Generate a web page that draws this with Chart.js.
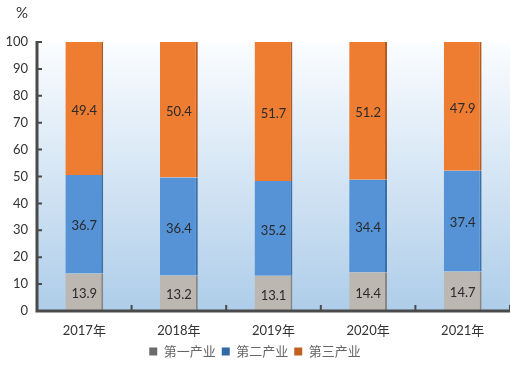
<!DOCTYPE html>
<html>
<head>
<meta charset="utf-8">
<script src="https://cdn.jsdelivr.net/npm/chart.js@4"></script>
<style>
  html, body { margin: 0; padding: 0; background: #fff; }
  #wrap { width: 510px; height: 370px; }
</style>
</head>
<body>
<div id="wrap"><canvas id="chart1"></canvas></div>
<script>
// 产业构成
const years = ["2017年", "2018年", "2019年", "2020年", "2021年"];
const primary = [13.9, 13.2, 13.1, 14.4, 14.7];
const secondary = [36.7, 36.4, 35.2, 34.4, 37.4];
const tertiary = [49.4, 50.4, 51.7, 51.2, 47.9];
const seriesNames = ["第一产业", "第二产业", "第三产业"];
const yTicks = [0, 10, 20, 30, 40, 50, 60, 70, 80, 90, 100];

const barColors = ["#bdb7b2", "#5592d6", "#ee7d32"];
const edgeColors = ["#8c8681", "#3a6fa8", "#b55a1e"];
const legendColors = ["#6b6b6b", "#2f6aa6", "#c0601c"];

Chart.defaults.font.family = "Lato, 'Noto Sans CJK SC', sans-serif";

const bgPlugin = {
    id: "bg",
    beforeDraw(chart) {
        const { ctx, chartArea: a } = chart;
        const g = ctx.createLinearGradient(0, a.top, 0, a.bottom);
        g.addColorStop(0, "#fbfdff");
        g.addColorStop(1, "#aecde9");
        ctx.save();
        ctx.fillStyle = g;
        ctx.fillRect(a.left, a.top, a.right - a.left, a.bottom - a.top);
        // % 标记
        ctx.fillStyle = "#333";
        ctx.font = "15px Lato, sans-serif";
        ctx.textAlign = "center";
        ctx.textBaseline = "middle";
        ctx.fillText("%", 22, 13);
        ctx.restore();
    }
};

const axisPlugin = {
    id: "axes",
    afterDatasetsDraw(chart) {
        const { ctx, chartArea: a, scales } = chart;
        ctx.save();
        // 数值标签
        ctx.fillStyle = "#2a2a2a";
        ctx.font = "13px Lato, sans-serif";
        ctx.textAlign = "center";
        ctx.textBaseline = "middle";
        chart.data.datasets.forEach((ds, di) => {
            chart.getDatasetMeta(di).data.forEach((bar, i) => {
                const y = (bar.y + bar.base) / 2;
                ctx.fillText(ds.data[i].toFixed(1), bar.x, y + 2);
            });
        });
        ctx.strokeStyle = "#4a4a4a";
        ctx.lineWidth = 3;
        ctx.beginPath();
        ctx.moveTo(a.left, a.top - 1);
        ctx.lineTo(a.left, a.bottom);
        ctx.lineTo(a.right, a.bottom);
        ctx.stroke();
        ctx.lineWidth = 2;
        ctx.beginPath();
        yTicks.forEach(v => {
            const y = scales.y.getPixelForValue(v);
            ctx.moveTo(a.left, y);
            ctx.lineTo(a.left + 5, y);
        });
        const step = scales.x.getPixelForValue(1) - scales.x.getPixelForValue(0);
        years.forEach((_v, i) => {
            const x = scales.x.getPixelForValue(i) + step / 2;
            ctx.moveTo(x, a.bottom);
            ctx.lineTo(x, a.bottom - 6);
        });
        ctx.stroke();
        ctx.restore();
    }
};

const seriesData = [primary, secondary, tertiary];

new Chart(document.getElementById("chart1"), {
    type: "bar",
    data: {
        labels: years,
        datasets: seriesData.map((d, i) => ({
            label: seriesNames[i],
            data: d,
            backgroundColor: barColors[i],
            borderColor: edgeColors[i],
            borderWidth: { left: 0, right: 2, top: 0, bottom: 0 },
            borderSkipped: false,
            barPercentage: 0.4,
            categoryPercentage: 1
        }))
    },
    options: {
        responsive: true,
        maintainAspectRatio: false,
        animation: false,
        layout: { padding: { top: 42, right: 0, left: 0, bottom: 2 } },
        scales: {
            x: {
                stacked: true,
                grid: { display: false, drawTicks: false },
                border: { display: false },
                ticks: { color: "#333", font: { size: 13 }, padding: 12 },
                afterFit: s => { s.height = 28; }
            },
            y: {
                stacked: true,
                min: 0,
                max: 100,
                grid: { display: false, drawTicks: false },
                border: { display: false },
                ticks: { stepSize: 10, color: "#333", font: { size: 13 }, padding: 9 },
                afterFit: s => { s.width = 37; }
            }
        },
        plugins: {
            legend: {
                position: "bottom",
                labels: {
                    boxWidth: 8,
                    boxHeight: 8,
                    padding: 6,
                    color: "#666",
                    font: { size: 13, family: "'Noto Sans CJK SC', sans-serif" },
                    generateLabels: chart => chart.data.datasets.map((ds, i) => ({
                        text: ds.label,
                        fillStyle: legendColors[i],
                        strokeStyle: legendColors[i],
                        lineWidth: 0,
                        fontColor: "#666",
                        datasetIndex: i
                    }))
                }
            },
            tooltip: { enabled: false }
        }
    },
    plugins: [bgPlugin, axisPlugin]
});
</script>
</body>
</html>
